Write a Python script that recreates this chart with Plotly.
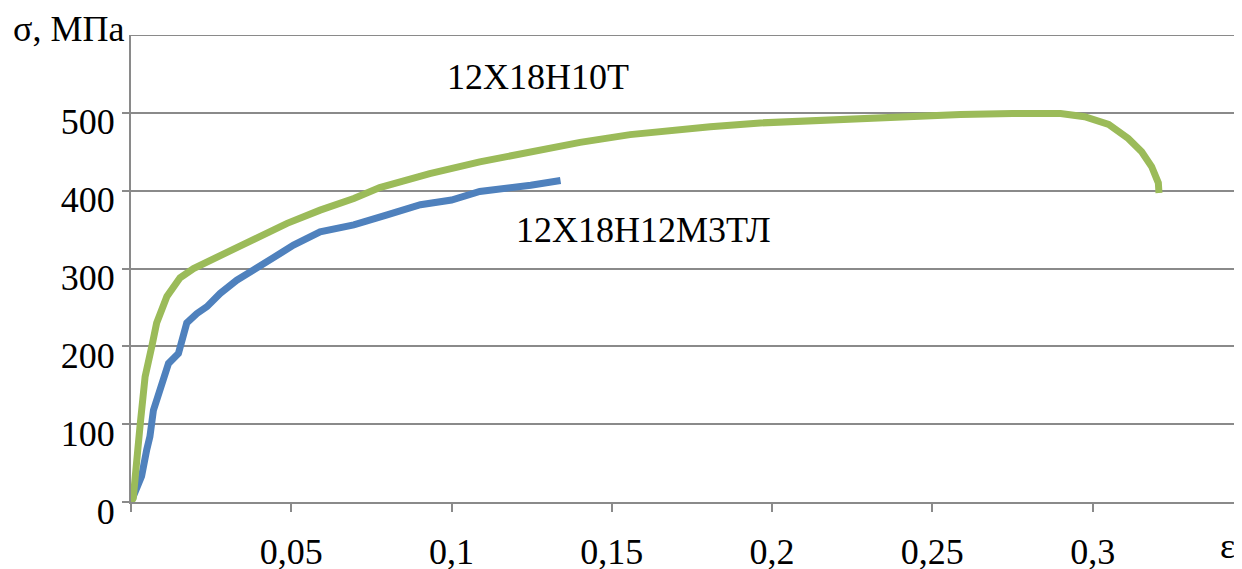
import plotly.graph_objects as go

# Green curve: 12Х18Н10Т
eps_green = [0.0, 0.0007, 0.0028, 0.0044, 0.0065, 0.008, 0.0112, 0.0153, 0.0195, 0.0278,
             0.0382, 0.0487, 0.059, 0.0695, 0.0776, 0.0932, 0.1088, 0.1245, 0.1401, 0.1557,
             0.1713, 0.1807, 0.1963, 0.212, 0.2276, 0.2432, 0.2588, 0.275, 0.29,
             0.2975, 0.305, 0.3111, 0.3153, 0.3184, 0.3205, 0.3207]
sig_green = [0, 5, 97, 161, 200, 230, 264, 288, 300, 317,
             339, 358, 375, 390, 404, 422, 437, 450, 462, 472,
             479, 482, 487, 490, 494, 496, 498, 499, 499,
             495, 485, 467, 450, 431, 410, 397]

# Blue curve: 12Х18Н12М3ТЛ
eps_blue = [0.0, 0.0005, 0.0033, 0.0049, 0.0059, 0.007, 0.0091, 0.0101, 0.0117, 0.0148,
            0.0163, 0.0174, 0.0205, 0.0237, 0.0278, 0.033, 0.0382, 0.0445, 0.0507, 0.059,
            0.0695, 0.0799, 0.0903, 0.1, 0.1088, 0.1247, 0.134]
sig_blue = [0, 5, 33, 67, 84, 118, 144, 161, 178, 191,
            217, 230, 242, 251, 268, 285, 298, 313, 330, 347,
            356, 369, 382, 388, 399, 407, 413]

x_ticks = [0, 0.05, 0.1, 0.15, 0.2, 0.25, 0.3]
x_tick_labels = ["", "0,05", "0,1", "0,15", "0,2", "0,25", "0,3"]
y_ticks = [0, 100, 200, 300, 400, 500]

FONT = "Liberation Serif, Times New Roman, serif"
GRID = "#8a8a8a"

fig = go.Figure()
fig.add_trace(go.Scatter(x=eps_blue, y=sig_blue, mode="lines",
                         line=dict(color="#4F81BD", width=7), showlegend=False))
fig.add_trace(go.Scatter(x=eps_green, y=sig_green, mode="lines",
                         line=dict(color="#9BBB59", width=7), showlegend=False))

fig.update_layout(
    width=1242, height=569,
    margin=dict(l=123, r=8, t=27, b=75),
    separators=", ",
    plot_bgcolor="white", paper_bgcolor="white",
    font=dict(family=FONT, size=36, color="black"),
    xaxis=dict(range=[0, 0.3466], tickmode="array", tickvals=x_ticks, ticktext=x_tick_labels,
               automargin=False,
               showgrid=False, zeroline=False, showline=True, linecolor=GRID, linewidth=2,
               ticks="outside", ticklen=8, tickwidth=2, tickcolor=GRID,
               ticklabelstandoff=9, tickfont=dict(family=FONT, size=36)),
    yaxis=dict(range=[0, 600], tickmode="array", tickvals=y_ticks,
               automargin=False,
               showgrid=True, gridcolor=GRID, gridwidth=2, zeroline=False,
               showline=True, linecolor=GRID, linewidth=2,
               ticks="outside", ticklen=7, tickwidth=2, tickcolor=GRID,
               ticklabelshift=9, tickfont=dict(family=FONT, size=36)),
    shapes=[dict(type="line", xref="paper", yref="y", x0=0, x1=1, y0=600, y1=600,
                 line=dict(color=GRID, width=2))],
    annotations=[
        dict(text="σ, МПа", xref="paper", yref="paper", x=0, y=1, xanchor="right", yanchor="middle",
             xshift=-5, yshift=6, showarrow=False, font=dict(family=FONT, size=36)),
        dict(text="ε", xref="paper", yref="paper", x=0.987, y=0, xanchor="center", yanchor="middle",
             yshift=-44, showarrow=False, font=dict(family=FONT, size=36)),
        dict(text="12Х18Н10Т", xref="x", yref="y", x=0.127, y=546, showarrow=False,
             font=dict(family=FONT, size=36)),
        dict(text="12Х18Н12М3ТЛ", xref="x", yref="y", x=0.1598, y=350, showarrow=False,
             font=dict(family=FONT, size=36)),
    ],
)

fig.write_html("out.html")
